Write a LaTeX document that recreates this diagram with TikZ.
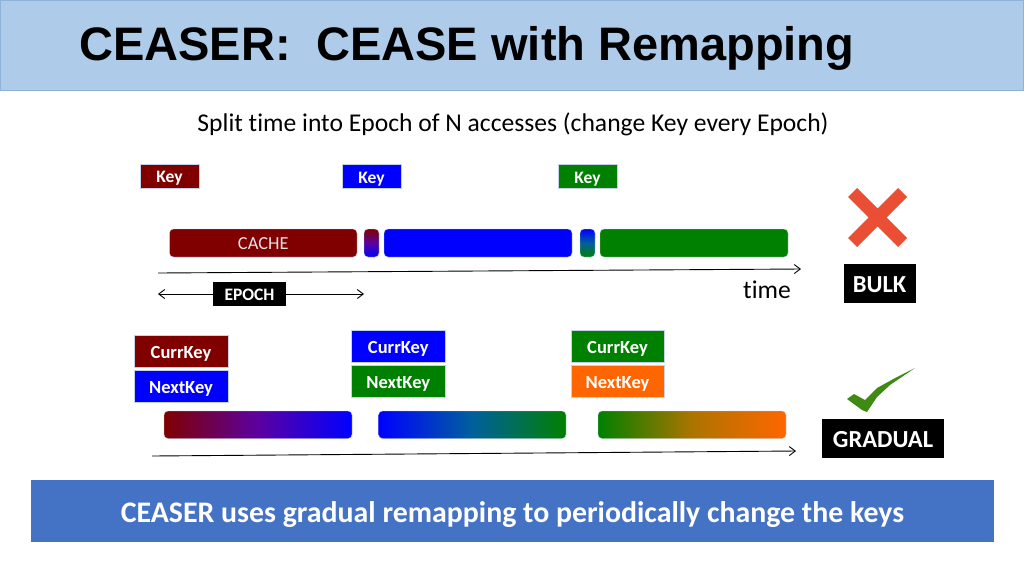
\documentclass[tikz,border=0pt]{standalone}
\usepackage{fontspec}
\usetikzlibrary{arrows.meta}
\setmainfont[Ligatures=NoCommon]{Carlito}
\newfontfamily\titlefont{Liberation Sans}
\definecolor{headblue}{HTML}{AECBE9}
\definecolor{headedge}{HTML}{8FB2DB}
\definecolor{footblue}{HTML}{4472C4}
\definecolor{keyred}{HTML}{800000}
\definecolor{keyblue}{HTML}{0000FF}
\definecolor{keygreen}{HTML}{008000}
\definecolor{keyorange}{HTML}{FF6600}
\definecolor{keyedge}{HTML}{C4D2E8}
\definecolor{mixpurple}{HTML}{5C00A0}
\definecolor{mixteal}{HTML}{00609C}
\definecolor{mixolive}{HTML}{AC7400}
\definecolor{crossred}{HTML}{EA4F36}
\definecolor{tickgreen}{HTML}{3F8A12}
\tikzset{
  keybox/.style={draw=keyedge, line width=0.4pt, text=white, inner sep=0pt, minimum height=24pt, minimum width=59pt, text height=13.5pt, text depth=0pt, font=\fontsize{17.5}{17.5}\selectfont\bfseries},
  currbox/.style={keybox, minimum height=32pt, minimum width=93.5pt, text height=14.5pt, font=\fontsize{18.5}{18.5}\selectfont\bfseries},
  barbox/.style={draw=keyedge, line width=0.3pt, rounded corners=4pt, inner sep=0pt, minimum height=28pt, text=white!90!black, text height=13.8pt, text depth=0pt, font=\fontsize{18.4}{18.4}\selectfont},
  tagbox/.style={fill=black, text=white, inner sep=0pt, text height=17pt, text depth=0pt, font=\fontsize{24.5}{24.5}\selectfont\bfseries},
  timeline/.style={line width=0.9pt, >={Straight Barb[length=6pt,width=9pt]}},
}
\begin{document}
\begin{tikzpicture}[x=1pt,y=-1pt]
\useasboundingbox (0,0) rectangle (1024,576);
\node (head) [draw=headedge, fill=headblue, inner sep=0pt, minimum width=1023pt, minimum height=90pt] at (512,45.5) {};
\node (title) [anchor=west, inner sep=0pt, font=\titlefont\fontsize{47}{47}\selectfont\bfseries] at (79,48) {CEASER:\hspace{0.27em} CEASE with Remapping};
\node (split) [inner sep=0pt, font=\fontsize{25.6}{25.6}\selectfont] at (513,124) {Split time into Epoch of N accesses (change Key every Epoch)};
% upper row
\node (keyA) [keybox, fill=keyred] at (169.5,176) {Key};
\node (keyB) [keybox, fill=keyblue] at (371.5,176.5) {Key};
\node (keyC) [keybox, fill=keygreen] at (587.5,176.5) {Key};
\node (barA) [barbox, fill=keyred, minimum width=187.5pt] at (263.25,243) {CACHE};
\node (mixA) [barbox, top color=keyred, bottom color=keyblue, middle color=mixpurple, minimum width=15pt] at (371.5,243) {};
\node (barB) [barbox, fill=keyblue, minimum width=188pt] at (478,243) {};
\node (mixB) [barbox, top color=keyblue, bottom color=keygreen, middle color=mixteal, minimum width=15pt] at (587.5,243) {};
\node (barC) [barbox, fill=keygreen, minimum width=188pt] at (694,243) {};
\coordinate (timeL) at (158,273);
\coordinate (timeR) at (801,269);
\draw[timeline, ->] (timeL) -- (timeR);
\node (time) [inner sep=0pt, font=\fontsize{25.6}{25.6}\selectfont] at (767,290) {time};
\coordinate (epochL) at (158,294);
\coordinate (epochR) at (364,294);
\draw[timeline, <->] (epochL) -- (epochR);
\node (epoch) [tagbox, minimum width=73pt, minimum height=24pt, text height=12.5pt, font=\fontsize{17.5}{17.5}\selectfont\bfseries] at (249.5,294) {EPOCH};
% lower row
\node (currA) [currbox, fill=keyred] at (181,351) {CurrKey};
\node (nextA) [currbox, fill=keyblue] at (181,386.5) {NextKey};
\node (currB) [currbox, fill=keyblue] at (398.25,346) {CurrKey};
\node (nextB) [currbox, fill=keygreen] at (398.25,381.5) {NextKey};
\node (currC) [currbox, fill=keygreen] at (617.5,346) {CurrKey};
\node (nextC) [currbox, fill=keyorange] at (617.5,381.5) {NextKey};
\node (gradA) [barbox, left color=keyred, right color=keyblue, middle color=mixpurple, minimum width=188pt, minimum height=27.5pt] at (258,424.75) {};
\node (gradB) [barbox, left color=keyblue, right color=keygreen, middle color=mixteal, minimum width=187.5pt, minimum height=27.5pt] at (472.25,424.75) {};
\node (gradC) [barbox, left color=keygreen, right color=keyorange, middle color=mixolive, minimum width=188pt, minimum height=27.5pt] at (692,424.75) {};
\coordinate (lowL) at (152,456);
\coordinate (lowR) at (796,451);
\draw[timeline, ->] (lowL) -- (lowR);
% bulk and gradual
\fill[crossred] (848,197) -- (857,188) -- (877.5,208.5) -- (898,188) -- (907,197) -- (886.5,217.5) -- (907,238) -- (898,247) -- (877.5,226.5) -- (857,247) -- (848,238) -- (868.5,217.5) -- cycle;
\node (bulk) [tagbox, minimum width=72pt, minimum height=39pt] at (879.5,283.5) {BULK};
\fill[tickgreen] (847,399) -- (854,394) -- (865,400) -- (877,388) -- (897,377) -- (915,368) -- (890,385) -- (877,397) -- (867,412) -- (862,410) -- cycle;
\node (gradual) [tagbox, minimum width=122pt, minimum height=39pt] at (883,438.5) {GRADUAL};
\node (foot) [fill=footblue, text=white, inner sep=0pt, minimum width=963pt, minimum height=62pt, text height=22.5pt, text depth=0pt, font=\fontsize{29.85}{29.85}\selectfont\bfseries] at (512.5,511) {CEASER uses gradual remapping to periodically change the keys};
\end{tikzpicture}
\end{document}
